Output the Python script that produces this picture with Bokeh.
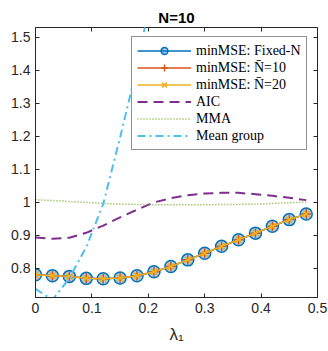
from bokeh.plotting import figure
from bokeh.models import Range1d, FixedTicker, CustomJSTickFormatter, LinearAxis
from bokeh.embed import file_html
from bokeh.resources import INLINE

# ---- data ----
lam = [0.00, 0.03, 0.06, 0.09, 0.12, 0.15, 0.18, 0.21, 0.24,
       0.27, 0.30, 0.33, 0.36, 0.39, 0.42, 0.45, 0.48]
minmse_fixed = [0.781, 0.778, 0.776, 0.770, 0.769, 0.771, 0.778, 0.790, 0.806,
                0.826, 0.846, 0.867, 0.887, 0.907, 0.928, 0.948, 0.965]
minmse_n10 = [0.781, 0.778, 0.776, 0.770, 0.769, 0.771, 0.778, 0.790, 0.806,
              0.826, 0.846, 0.867, 0.887, 0.907, 0.928, 0.948, 0.965]
minmse_n20 = [0.781, 0.778, 0.776, 0.770, 0.769, 0.771, 0.778, 0.790, 0.806,
              0.826, 0.846, 0.867, 0.887, 0.907, 0.928, 0.948, 0.965]
aic = [0.894, 0.890, 0.893, 0.908, 0.930, 0.955, 0.978, 1.000, 1.013,
       1.022, 1.027, 1.029, 1.029, 1.025, 1.020, 1.014, 1.007]
mma = [1.008, 1.006, 1.003, 1.000, 0.997, 0.995, 0.994, 0.993, 0.993,
       0.993, 0.993, 0.994, 0.994, 0.995, 0.997, 0.999, 1.001]
lam_mg = [0.00, 0.03, 0.06, 0.09, 0.12, 0.15, 0.18, 0.21]
mean_group = [0.738, 0.705, 0.770, 0.865, 0.995, 1.197, 1.410, 1.670]

x_ticks = [0, 0.1, 0.2, 0.3, 0.4, 0.5]
y_ticks = [0.8, 0.9, 1.0, 1.1, 1.2, 1.3, 1.4, 1.5]

BLUE = "#0072BD"
RED = "#D95319"
ORANGE = "#EDB120"
PURPLE = "#7E2F8E"
GREEN = "#77AC30"
CYAN = "#4DBEEE"
AXC = "#262626"

p = figure(frame_width=282, frame_height=270,
           x_range=Range1d(0, 0.5), y_range=Range1d(0.712, 1.53),
           output_backend="svg", toolbar_location=None,
           min_border_left=35, min_border_right=11, min_border_top=27, min_border_bottom=54)

p.title.text = "N=10"
p.title.align = "center"
p.title.text_font = "Liberation Sans"
p.title.text_font_size = "15px"
p.title.text_font_style = "bold"
p.title.text_color = "#000000"
p.title.standoff = 3

p.xgrid.visible = False
p.ygrid.visible = False
p.outline_line_color = AXC
p.outline_line_width = 1

fmt = CustomJSTickFormatter(code="return Number(tick.toFixed(2)).toString();")
for ax, ticks in ((p.xaxis[0], x_ticks), (p.yaxis[0], y_ticks)):
    ax.ticker = FixedTicker(ticks=ticks)
    ax.formatter = fmt
    ax.major_tick_in = 4
    ax.major_tick_out = 0
    ax.minor_tick_line_color = None
    ax.axis_line_color = AXC
    ax.major_tick_line_color = AXC
    ax.major_label_text_font = "Liberation Sans"
    ax.major_label_text_font_size = "14px"
    ax.major_label_text_color = AXC
    ax.major_label_standoff = 5

p.xaxis[0].axis_label = "λ₁"
p.xaxis[0].axis_label_text_font = "Liberation Sans"
p.xaxis[0].axis_label_text_font_style = "normal"
p.xaxis[0].axis_label_text_font_size = "17px"
p.xaxis[0].axis_label_text_color = AXC
p.xaxis[0].axis_label_standoff = 9

blank = CustomJSTickFormatter(code="return '';")
for loc, ticks in (("right", y_ticks), ("above", x_ticks)):
    ax = LinearAxis(ticker=FixedTicker(ticks=ticks), formatter=blank,
                    major_label_standoff=0, major_tick_in=4, major_tick_out=0,
                    minor_tick_line_color=None, axis_line_color=None,
                    major_tick_line_color=AXC)
    p.add_layout(ax, loc)

# series
p.line(lam, minmse_fixed, color=BLUE, line_width=1.5, legend_label="minMSE: Fixed-N")
p.scatter(lam, minmse_fixed, marker="circle", size=12, line_color=BLUE, line_width=1.5,
          fill_color=BLUE, fill_alpha=0.35, legend_label="minMSE: Fixed-N")
p.line(lam, minmse_n10, color=RED, line_width=1.5, legend_label="minMSE: N̄=10")
p.scatter(lam, minmse_n10, marker="cross", size=10, line_color=RED, line_width=1.5,
          legend_label="minMSE: N̄=10")
p.line(lam, minmse_n20, color=ORANGE, line_width=1.5, legend_label="minMSE: N̄=20")
p.scatter(lam, minmse_n20, marker="x", size=9, line_color=ORANGE, line_width=1.5,
          legend_label="minMSE: N̄=20")
p.line(lam, aic, color=PURPLE, line_width=2, line_dash="10 6", legend_label="AIC")
p.line(lam, mma, color=GREEN, line_width=1.5, line_dash="1 2", legend_label="MMA")
p.line(lam_mg, mean_group, color=CYAN, line_width=2, line_dash="8 4 2 4",
       legend_label="Mean group")

lg = p.legend[0]
lg.location = (96, 147)
lg.label_text_font = "Liberation Serif"
lg.label_text_font_size = "14px"
lg.label_text_color = "#000000"
lg.glyph_width = 54
lg.glyph_height = 17
lg.label_height = 17
lg.spacing = 0
lg.padding = 5
lg.margin = 0
lg.label_standoff = 5
lg.border_line_color = AXC
lg.border_line_width = 1
lg.background_fill_alpha = 1

open("out.html", "w").write(file_html(p, INLINE))
